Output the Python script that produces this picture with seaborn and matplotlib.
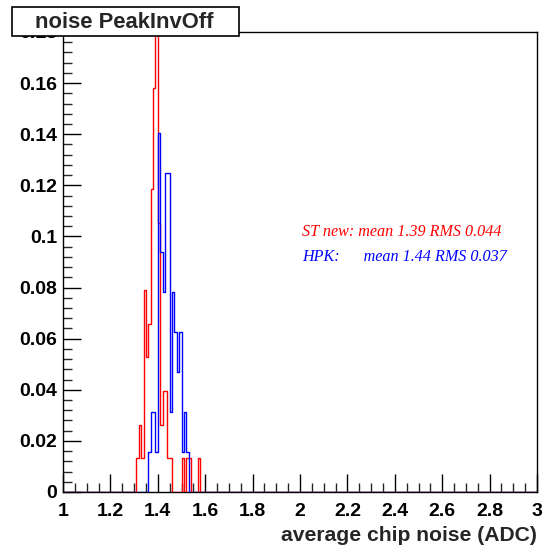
import numpy as np
import pandas as pd
import matplotlib
matplotlib.use("Agg")
import matplotlib.pyplot as plt
import seaborn as sns
from matplotlib.patches import Rectangle
from matplotlib.ticker import MultipleLocator, AutoMinorLocator, FuncFormatter

# histogram contents (0.01 wide bins)
bin_width = 0.01
st_start = 1.31
st_counts = [1, 2, 1, 6, 4, 5, 9, 12, 14, 8, 2, 3, 3, 1, 1, 0, 0, 0, 0, 1, 0, 1, 1, 0, 0, 0, 1]
hpk_start = 1.36
hpk_counts = [1, 2, 2, 1, 9, 6, 5, 8, 8, 2, 5, 4, 3, 4, 1, 2, 1]

x_range = (1.0, 3.0)
y_range = (0.0, 0.18)
title = "noise PeakInvOff"
xlabel = "average chip noise (ADC)"
st_label = "ST new: mean 1.39 RMS 0.044"
hpk_label = "HPK:      mean 1.44 RMS 0.037"


def to_frame(start, counts):
    counts = np.array(counts, dtype=float)
    centers = start + bin_width * (np.arange(len(counts)) + 0.5)
    return pd.DataFrame({"x": centers, "w": counts / counts.sum()})


st_df = to_frame(st_start, st_counts)
hpk_df = to_frame(hpk_start, hpk_counts)

sns.set_theme(style="ticks")
plt.rcParams["font.family"] = ["Liberation Sans", "DejaVu Sans"]
plt.rcParams["font.weight"] = "bold"

fig = plt.figure(figsize=(5.44, 5.51), dpi=100)
ax = fig.add_axes([63 / 544, 1 - 492 / 551, (537 - 63) / 544, (492 - 32) / 551])

sns.histplot(data=st_df, x="x", weights="w", binwidth=bin_width, binrange=x_range,
             stat="count", element="step", fill=False, color="#ff0000", linewidth=1.0,
             zorder=3, ax=ax)
sns.histplot(data=hpk_df, x="x", weights="w", binwidth=bin_width, binrange=x_range,
             stat="count", element="step", fill=False, color="#0000ff", linewidth=1.0,
             zorder=3, ax=ax)

ax.set_xlim(*x_range)
ax.set_ylim(*y_range)
ax.xaxis.set_major_locator(MultipleLocator(0.2))
ax.xaxis.set_minor_locator(MultipleLocator(0.05))
ax.yaxis.set_major_locator(MultipleLocator(0.02))
ax.yaxis.set_minor_locator(AutoMinorLocator(5))
fmt = FuncFormatter(lambda v, p: "0" if abs(v) < 1e-9 else f"{v:g}")
ax.xaxis.set_major_formatter(fmt)
ax.yaxis.set_major_formatter(fmt)
ax.tick_params(which="major", direction="in", length=13, width=1, labelsize=14,
               top=False, right=False, colors="black")
ax.tick_params(which="minor", direction="in", length=6.5, width=1, top=False, right=False)
ax.tick_params(axis="x", pad=8)
ax.tick_params(axis="y", pad=4)
for s in ax.spines.values():
    s.set_visible(True)
    s.set_color("black")
    s.set_linewidth(1)

ax.set_ylabel("")
ax.set_xlabel(xlabel, fontsize=15.2, fontweight="bold", loc="right", labelpad=4)

ax.text(0.5036, 0.566, st_label, transform=ax.transAxes, color="#ff0000",
        family=["Liberation Serif", "DejaVu Serif"], style="italic", fontweight="normal",
        fontsize=11.6, va="center")
ax.text(0.5036, 0.510, hpk_label, transform=ax.transAxes, color="#0000ff",
        family=["Liberation Serif", "DejaVu Serif"], style="italic", fontweight="normal",
        fontsize=11.6, va="center")

# title box, drawn over the hidden 0.18 label like in the original
fig.add_artist(Rectangle((12 / 544, 1 - 36 / 551), 227 / 544, 29 / 551,
                         transform=fig.transFigure, facecolor="white",
                         edgecolor="black", linewidth=1.2, zorder=10))
fig.text(124 / 544, 1 - 22 / 551, title, ha="center", va="center",
         fontsize=15.8, fontweight="bold", zorder=11)

fig.savefig("out.png", dpi=100, facecolor="white")
